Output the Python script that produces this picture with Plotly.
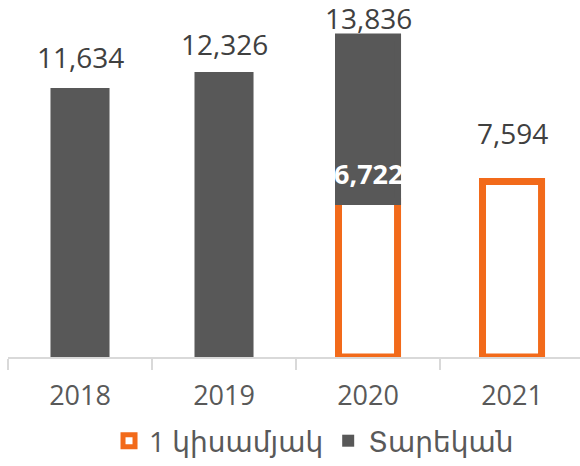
import plotly.graph_objects as go

# ---- data ----
years = ["2018", "2019", "2020", "2021"]
half_year = [None, None, 6722, 7594]        # 1 կիսամյակ
annual = [11634, 12326, 13836, None]        # Տարեկան
half_name = "1 կիսամյակ"
annual_name = "Տարեկան"

# ---- style ----
GRAY = "#585858"
ORANGE = "#F26A1A"
TXT = "#404040"
AX = "#D9D9D9"
FONT = "Open Sans, DejaVu Sans, sans-serif"
BAR_W = 0.41
BORDER = 7
LABEL_SHIFT = {"2018": 31, "2019": 28, "2020": 19, "2021": 48}   # px above bar top
INNER_SHIFT = 28

annual_base = [h if (h is not None and a is not None) else 0 for a, h in zip(annual, half_year)]
annual_height = [(a - b) if a is not None else None for a, b in zip(annual, annual_base)]
annual_border = [BORDER if b else 0 for b in annual_base]

fig = go.Figure()
fig.add_trace(go.Bar(
    x=years, y=half_year, name=half_name, width=BAR_W,
    marker=dict(color="white", line=dict(color=ORANGE, width=BORDER)),
    cliponaxis=False, hoverinfo="skip",
))
fig.add_trace(go.Bar(
    x=years, y=annual_height, base=annual_base, name=annual_name, width=BAR_W,
    marker=dict(color=GRAY, line=dict(color=GRAY, width=annual_border)),
    cliponaxis=False, hoverinfo="skip",
))

for i, (yr, a, h) in enumerate(zip(years, annual, half_year)):
    top = a if a is not None else h
    if top is None:
        continue
    fig.add_annotation(x=i, y=top, xref="x", yref="y", text=f"{top:,}", showarrow=False,
                       yshift=LABEL_SHIFT[yr], borderpad=0,
                       font=dict(family=FONT, size=28, color=TXT))
    if a is not None and h is not None:
        fig.add_annotation(x=i, y=h, xref="x", yref="y", text=f"<b>{h:,}</b>",
                           showarrow=False, yshift=INNER_SHIFT, borderpad=0,
                           font=dict(family=FONT, size=27, color="white"))

fig.update_layout(
    width=580, height=466,
    margin=dict(l=8, r=0, t=0, b=109),
    paper_bgcolor="white", plot_bgcolor="white",
    barmode="overlay",
    showlegend=True,
    hovermode=False,
    legend=dict(orientation="h", x=0.535, xanchor="center", y=-0.236, yanchor="middle",
                font=dict(family=FONT, size=28, color="#595959"),
                traceorder="normal"),
    font=dict(family=FONT, size=28, color="#595959"),
)
fig.update_xaxes(
    type="category", range=[-0.5, 3.472],
    showline=True, linecolor=AX, linewidth=2,
    ticks="outside", tickson="boundaries", ticklen=11, tickcolor=AX, tickwidth=2,
    tickfont=dict(family=FONT, size=27, color="#595959"),
    ticklabelstandoff=14,
    showgrid=False, zeroline=False,
)
fig.update_yaxes(range=[0, 15441], visible=False, showgrid=False, zeroline=False)

fig.write_html(
    "out.html",
    config={"displayModeBar": False, "staticPlot": True},
    post_script="document.body.style.margin='0';document.body.style.overflow='hidden';",
)
